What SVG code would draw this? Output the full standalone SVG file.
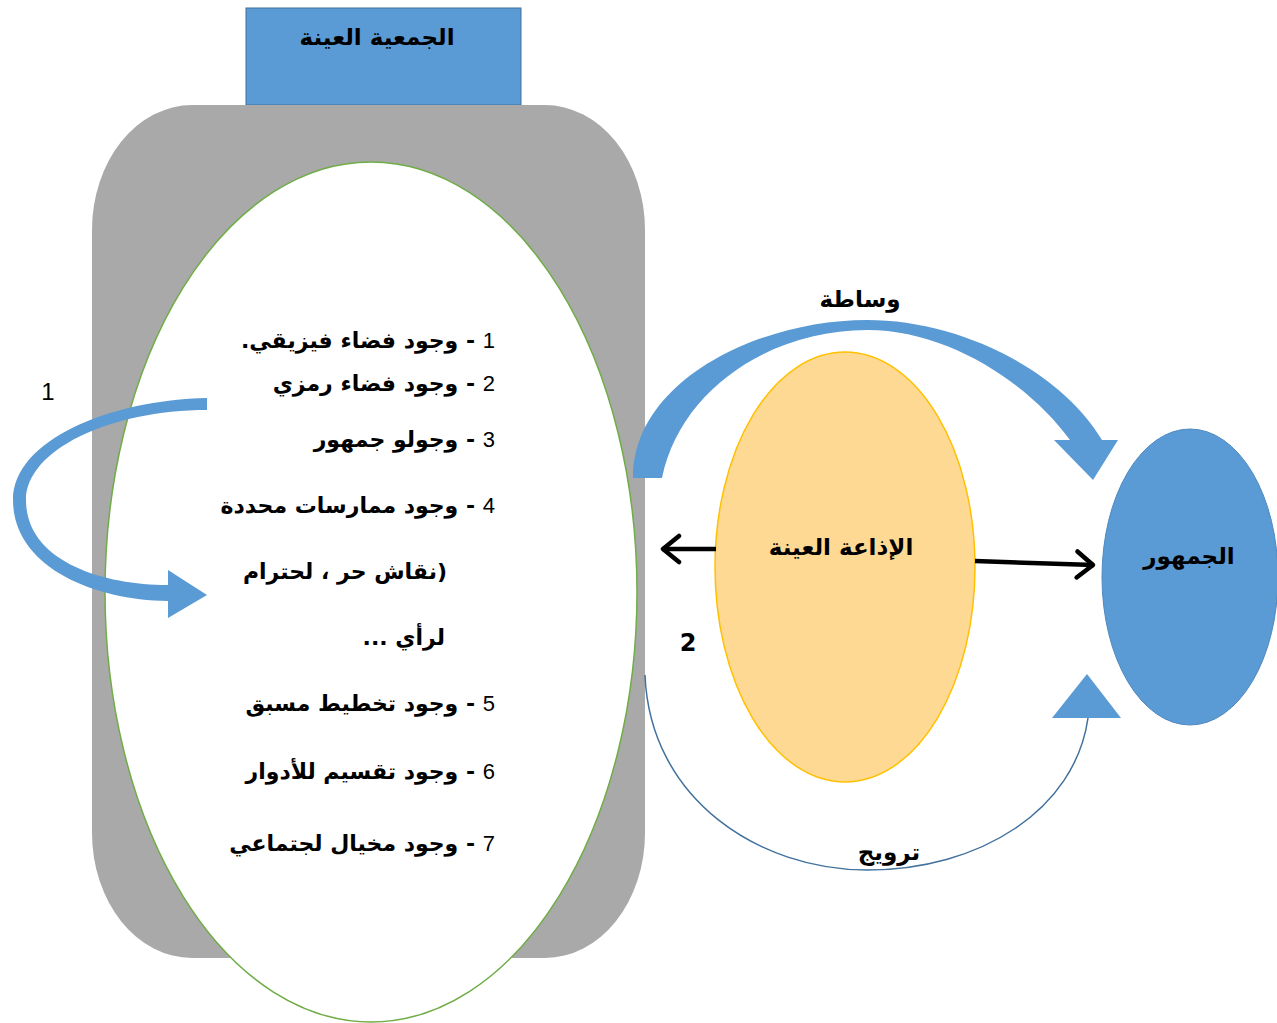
<svg xmlns="http://www.w3.org/2000/svg" width="1277" height="1023" viewBox="0 0 1277 1023">
<style>
.ar{font-family:"DejaVu Sans","Liberation Sans",sans-serif;font-weight:bold;fill:#000}
.num{font-family:"Liberation Sans","DejaVu Sans",sans-serif;font-weight:normal}
.item{font-size:22px;direction:rtl;unicode-bidi:embed}
.blue{fill:#5B9BD5}
</style>
<defs>
<marker id="chev" viewBox="0 0 24 32" refX="21" refY="16" markerWidth="24" markerHeight="32" markerUnits="userSpaceOnUse" orient="auto">
<path d="M4,3 L20,16 L4,29" fill="none" stroke="#000" stroke-width="4.5" stroke-linecap="round" stroke-linejoin="round"/>
</marker>
</defs>
<rect width="1277" height="1023" fill="#fff"/>
<g id="node-group-title">
<rect x="246" y="8" width="275" height="97" fill="#5B9BD5" stroke="#41719C" stroke-width="1"/>
<text class="ar" x="377" y="45" font-size="23" text-anchor="middle">الجمعية العينة</text>
</g>
<g id="node-container">
<rect x="92" y="105" width="553" height="853" rx="100" ry="125" fill="#A9A9A9"/>
</g>
<g id="node-list">
<ellipse cx="371" cy="592" rx="266" ry="430" fill="#fff" stroke="#70AD47" stroke-width="1.5"/>
<text class="ar item" x="495" y="348"><tspan class="num">1</tspan> -  وجود فضاء فيزيقي.</text>
<text class="ar item" x="495" y="391"><tspan class="num">2</tspan> -  وجود فضاء رمزي</text>
<text class="ar item" x="495" y="447"><tspan class="num">3</tspan> -  وجولو جمهور</text>
<text class="ar item" x="495" y="513"><tspan class="num">4</tspan> -  وجود ممارسات محددة</text>
<text class="ar item" x="447" y="579">(نقاش حر ، لحترام</text>
<text class="ar item" x="445" y="645">لرأي ...</text>
<text class="ar item" x="495" y="711"><tspan class="num">5</tspan> -  وجود تخطيط مسبق</text>
<text class="ar item" x="495" y="779"><tspan class="num">6</tspan> -  وجود تقسيم للأدوار</text>
<text class="ar item" x="495" y="851"><tspan class="num">7</tspan> -  وجود مخيال لجتماعي</text>
</g>
<g id="node-radio">
<ellipse cx="845" cy="567" rx="130" ry="215" fill="#FED993" stroke="#FFC000" stroke-width="1.5"/>
<text class="ar" x="841" y="555" font-size="23" text-anchor="middle">الإذاعة العينة</text>
</g>
<g id="node-public">
<ellipse cx="1190" cy="577" rx="88" ry="148" fill="#5B9BD5" stroke="#4F89BF" stroke-width="1"/>
<text class="ar" x="1189" y="564" font-size="23" text-anchor="middle">الجمهور</text>
</g>
<g id="connectors">
<path class="blue" d="M207,398 C110,400 13,440 13,500 C13,565 90,600 168,601 L168,618 L207,595 L168,570 L168,585 C100,585 26,560 26,500 C26,450 110,410 207,410 Z"/>
<path class="blue" d="M633,478 C633,380 760,320 867,320 C960,320 1060,370 1102,440 L1118,440 L1093,480 L1054,440 L1070,440 C1030,385 950,330 867,330 C770,330 680,390 662,478 Z"/>
<path d="M645,675 C650,800 760,870 867,870 C980,870 1075,810 1088,718" fill="none" stroke="#41719C" stroke-width="1.5"/>
<polygon class="blue" points="1052,718 1121,718 1087,674"/>
<line x1="716" y1="549" x2="662" y2="549" stroke="#000" stroke-width="4.5" marker-end="url(#chev)"/>
<line x1="975" y1="561" x2="1094" y2="565" stroke="#000" stroke-width="4.5" marker-end="url(#chev)"/>
<text class="num" x="48" y="400" font-size="24" text-anchor="middle">1</text>
<text class="ar" x="688" y="651" font-size="24" text-anchor="middle">2</text>
<text class="ar" x="860" y="307" font-size="23" text-anchor="middle">وساطة</text>
<text class="ar" x="889" y="860" font-size="23" text-anchor="middle">ترويج</text>
</g>
</svg>
